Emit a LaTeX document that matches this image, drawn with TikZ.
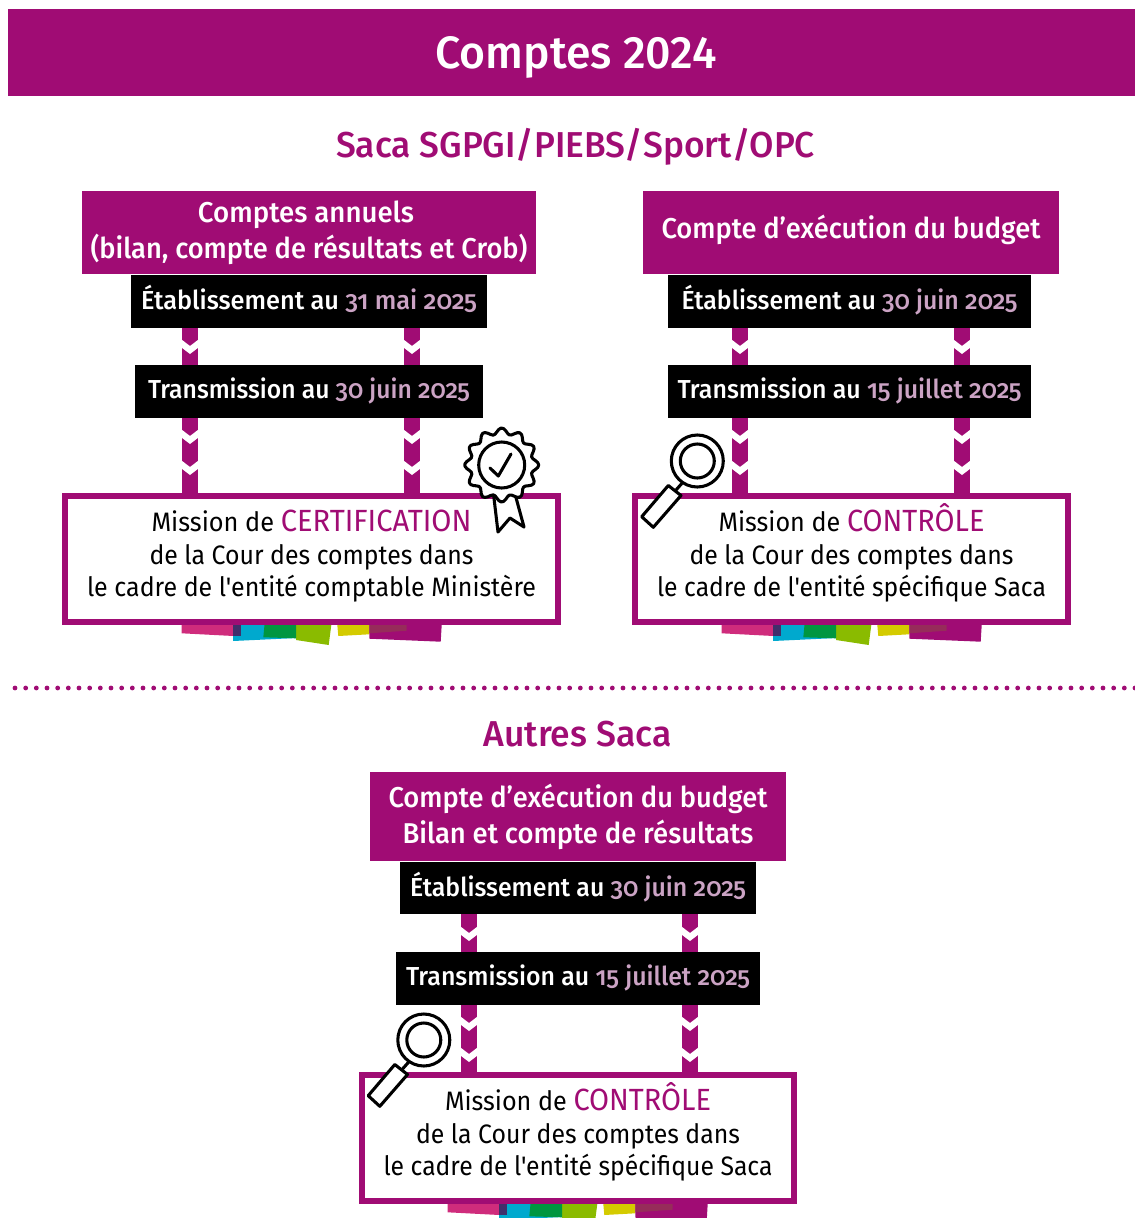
\documentclass[tikz,border=0pt]{standalone}
\usepackage{fontspec}
\usepackage{graphicx}
\setmainfont{Fira Sans}
\newfontfamily\regf{Fira Sans}
\newfontfamily\medl{Fira Sans Medium}
\newfontfamily\medf{Fira Sans Medium}[Numbers=OldStyle]
\definecolor{mag}{HTML}{A00C74}
\definecolor{dat}{HTML}{CBA3C4}
\newsavebox{\fwbox}
\newcommand{\fw}[2]{\sbox{\fwbox}{#2}\pgfmathsetmacro{\fwr}{#1*0.75/(\the\wd\fwbox)}\scalebox{\fwr}[1]{\usebox{\fwbox}}}
\newcommand{\dt}[1]{\textcolor{dat}{#1}}
\newcommand{\mg}[1]{\textcolor{mag}{\fontsize{23}{24.3}\selectfont #1}}
\newcommand{\bl}{\rule[-5.8pt]{0pt}{22.8pt}}
\newcommand{\ml}{\rule[-13.5pt]{0pt}{13.5pt}}
\newcommand{\mt}{\rule{0pt}{21pt}}
\tikzset{
  band/.style={rectangle,fill=mag,text=white,inner sep=0pt,outer sep=0pt,align=center,font=\medl\fontsize{21.5}{26.2}\selectfont,anchor=north west},
  blk/.style={rectangle,fill=black,text=white,inner sep=0pt,outer sep=0pt,align=center,font=\medf\fontsize{19.5}{24}\selectfont,anchor=north west},
  missionbox/.style={rectangle,draw=mag,line width=4.5pt,fill=white,inner sep=0pt,outer sep=0pt,align=center,text=black,font=\regf\fontsize{20}{24.3}\selectfont,anchor=north west},
  rail/.style={draw=mag,line width=12pt},
  icon/.style={draw=black,line width=2.3pt,fill=white,line join=round},
  heading/.style={text=mag,inner sep=0pt,font=\medl\fontsize{27}{32}\selectfont}
}
\newcommand{\chev}[2]{\fill[white] (#1-8.5,#2-6.5) -- (#1,#2) -- (#1+8.5,#2-6.5) -- (#1+8.5,#2+1.5) -- (#1,#2+8) -- (#1-8.5,#2+1.5) -- cycle;}
\newcommand{\strip}[2]{\begin{scope}[shift={(#1,#2)}]
 \fill[fill=stPink] (181.7,625) -- (233.5,625) -- (233.5,636) -- (181.7,633.3) -- cycle;
 \fill[fill=stCyan] (233,625) -- (297,625) -- (297,638) -- (233,641) -- cycle;
 \fill[fill=stDark] (233,625) -- (240.7,625) -- (240.7,636) -- (233,636) -- cycle;
 \fill[fill=stLime] (296,625) -- (331.3,625) -- (328.7,645) -- (296,640) -- cycle;
 \fill[fill=stGreen] (264.5,625) -- (296,625) -- (296,638.3) -- (263.3,637.3) -- cycle;
 \fill[fill=stYellow] (337.3,625) -- (369.3,625) -- (369.3,634.3) -- (338.3,636) -- cycle;
 \fill[fill=mag] (369.3,625) -- (441.7,625) -- (440.7,641.7) -- (369.3,638.7) -- cycle;
 \fill[fill=stWine] (369.3,625) -- (406.7,625) -- (406.7,630.7) -- (369.3,633.3) -- cycle;
\end{scope}}
\definecolor{stPink}{HTML}{CF2C7C}
\definecolor{stCyan}{HTML}{00A9CE}
\definecolor{stDark}{HTML}{402F6B}
\definecolor{stLime}{HTML}{8ABB00}
\definecolor{stGreen}{HTML}{009640}
\definecolor{stYellow}{HTML}{D4CB00}
\definecolor{stWine}{HTML}{962C5A}
\newcommand{\loupe}[2]{\begin{scope}[shift={(#1,#2)}]
 \draw[icon] (676,490) -- (684,481);
 \draw[icon] (668.3,485.5) -- (681,495.5) -- (653.3,527.3) -- (641.7,516.7) -- cycle;
 \draw[icon] (697.3,461) circle[radius=26];
 \draw[icon] (697.3,461) circle[radius=17];
\end{scope}}
\begin{document}
\begin{tikzpicture}[x=0.75pt,y=-0.75pt]
\useasboundingbox (0,0) rectangle (1135,1218);
% title
\fill[mag] (8,9) rectangle (1135,96);
\node[text=white,inner sep=0pt,font=\medl\fontsize{34}{38}\selectfont] (title) at (576,57) {\fw{281}{Comptes 2024}};
\node[heading] (h1) at (575.5,147) {\fw{479}{Saca SGPGI/PIEBS/Sport/OPC}};
\node[heading] (h2) at (577.5,734) {\fw{188}{Autres Saca}};
\draw[mag,line width=3.6pt,line cap=round,dash pattern=on 0pt off 8pt] (15,688) -- (1135,688);

% left group
\node[band,minimum width=340.5pt,minimum height=62.25pt] (a0) at (82,191) {\fw{216}{Comptes annuels}\rule{4.5pt}{0pt}\\[1pt]\fw{437}{(bilan, compte de résultats et Crob)}};
\node[blk,minimum width=267pt,minimum height=39.75pt] (a1) at (131,275) {\bl\fw{336}{Établissement au \dt{31 mai 2025}}};
\node[blk,minimum width=261pt,minimum height=39.75pt] (a2) at (135,365) {\bl\fw{322}{Transmission au \dt{30 juin 2025}}};
\node[missionbox,minimum width=369.75pt,minimum height=94.5pt] (a3) at (65,496) {\mt\fw{320}{Mission de \mg{CERTIFICATION}}\\\fw{324}{de la Cour des comptes dans}\\\ml\fw{449}{le cadre de l'entité comptable Ministère}};
\coordinate (ax) at (190,0); \coordinate (ay) at (412,0);
\draw[rail] (a1.south -| ax) -- (a2.north -| ax);
\draw[rail] (a1.south -| ay) -- (a2.north -| ay);
\draw[rail] (a2.south -| ax) -- (a3.north -| ax);
\draw[rail] (a2.south -| ay) -- (a3.north -| ay);
\foreach \cx in {190,412}{\chev{\cx}{346}\chev{\cx}{436}\chev{\cx}{467}}
\strip{0}{0}

% right group
\node[band,minimum width=312pt,minimum height=62.25pt] (b0) at (643,191) {\rule[-8pt]{0pt}{8pt}\fw{379}{Compte d’exécution du budget}};
\node[blk,minimum width=272.25pt,minimum height=39.75pt] (b1) at (668,275) {\bl\fw{336}{Établissement au \dt{30 juin 2025}}};
\node[blk,minimum width=272.25pt,minimum height=39.75pt] (b2) at (668,365) {\bl\fw{344}{Transmission au \dt{15 juillet 2025}}};
\node[missionbox,minimum width=324.75pt,minimum height=94.5pt] (b3) at (635,496) {\mt\fw{266}{Mission de \mg{CONTRÔLE}}\\\fw{324}{de la Cour des comptes dans}\\\ml\fw{389}{le cadre de l'entité spécifique Saca}};
\coordinate (bx) at (740,0); \coordinate (by) at (962,0);
\draw[rail] (b1.south -| bx) -- (b2.north -| bx);
\draw[rail] (b1.south -| by) -- (b2.north -| by);
\draw[rail] (b2.south -| bx) -- (b3.north -| bx);
\draw[rail] (b2.south -| by) -- (b3.north -| by);
\foreach \cx in {740,962}{\chev{\cx}{346}\chev{\cx}{436}\chev{\cx}{467}}
\strip{540}{0}

% bottom group
\node[band,minimum width=312pt,minimum height=66.75pt] (c0) at (370,772) {\fw{379}{Compte d’exécution du budget}\\[1pt]\fw{351}{Bilan et compte de résultats}};
\node[blk,minimum width=267pt,minimum height=39pt] (c1) at (400,862) {\bl\fw{336}{Établissement au \dt{30 juin 2025}}};
\node[blk,minimum width=273pt,minimum height=39.75pt] (c2) at (396,952) {\bl\fw{344}{Transmission au \dt{15 juillet 2025}}};
\node[missionbox,minimum width=324pt,minimum height=94.5pt] (c3) at (362,1075) {\mt\fw{266}{Mission de \mg{CONTRÔLE}}\\\fw{324}{de la Cour des comptes dans}\\\ml\fw{389}{le cadre de l'entité spécifique Saca}};
\coordinate (cx) at (469,0); \coordinate (cy) at (690,0);
\draw[rail] (c1.south -| cx) -- (c2.north -| cx);
\draw[rail] (c1.south -| cy) -- (c2.north -| cy);
\draw[rail] (c2.south -| cx) -- (c3.north -| cx);
\draw[rail] (c2.south -| cy) -- (c3.north -| cy);
\foreach \cx in {469,690}{\chev{\cx}{933}\chev{\cx}{1023}\chev{\cx}{1054}}
\begin{scope}
\clip (0,0) rectangle (1135,1218);
\strip{266}{579}
\end{scope}

% icons
\loupe{0}{0}
\loupe{-273.5}{579}
\draw[icon] (493.5,494) -- (498,532) -- (510,518) -- (524,527) -- (515,494) -- cycle;
\draw[icon,smooth,samples=96,domain=0:360] plot ({501.7+(34+3*cos(12*\x))*cos(\x)},{465+(34+3*cos(12*\x))*sin(\x)}) -- cycle;
\draw[icon] (501.7,465) circle[radius=23];
\draw[draw=black,line width=2.3pt,line join=round,line cap=round] (490,468) -- (498.3,476) -- (511,454);
\end{tikzpicture}
\end{document}
